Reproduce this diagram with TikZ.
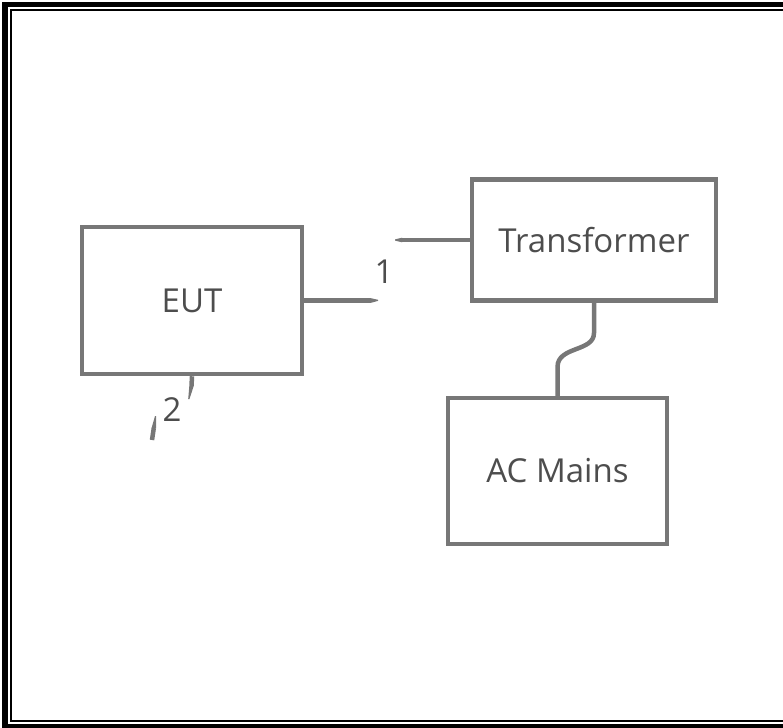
\documentclass[tikz,border=0pt]{standalone}
\usepackage{fontspec}
\setmainfont{Open Sans}
\definecolor{linegray}{HTML}{777777}
\definecolor{textgray}{HTML}{4D4D4D}
\begin{document}
\begin{tikzpicture}[x=1pt,y=-1pt,
  box/.style={draw=linegray,line width=4.5pt,rectangle,inner sep=0pt,
    font=\fontsize{33}{38}\selectfont,text=textgray},
  conn/.style={draw=linegray,line width=4.5pt},
  tip/.style={fill=linegray},
  lbl/.style={font=\fontsize{33}{38}\selectfont,text=textgray,inner sep=0pt}]
\useasboundingbox (0,0) rectangle (783,727);
% frame
\draw[black,line width=5.5pt] (5,4.3) rectangle (800,727);
\draw[black,line width=2.3pt] (11,10) rectangle (800,721);
% boxes
\node[box,minimum width=220pt,minimum height=147pt] (eut) at (192,300.5) {EUT};
\node[box,minimum width=244pt,minimum height=121pt] (tr) at (594,240) {Transformer};
\node[box,minimum width=219pt,minimum height=146pt] (ac) at (557.5,471) {AC Mains};
% connector 1
\coordinate (c1a) at (371,300.5);
\coordinate (c1b) at (402,240);
\draw[conn] (eut.east) -- (c1a);
\fill[tip] (371,298.2) -- (378,299.8) -- (378,300.9) -- (371,302.8) -- cycle;
\draw[conn] (tr.west) -- (c1b);
\fill[tip] (402,237.7) -- (395,239.4) -- (395,240.6) -- (402,242.3) -- cycle;
\node[lbl] (l1) at (384,272) {1};
% connector 2
\coordinate (c2a) at (191.5,386);
\draw[conn] (eut.south) -- (c2a);
\fill[tip] (189.3,386) -- (193.7,386) -- (189.5,399) -- (188.2,399) -- cycle;
\coordinate (c2b) at (152,440);
\coordinate (c2c) at (153.8,428);
\draw[conn] (c2b) -- (c2c);
\fill[tip] (151.6,428) -- (156,428) -- (156,416) -- (155,416) -- cycle;
\node[lbl] (l2) at (172,410) {2};
% transformer to AC mains
\coordinate (k1) at (594,333);
\coordinate (k2) at (557.5,367);
\draw[conn] (tr.south) -- (k1) .. controls (594,352) and (557.5,346) .. (k2) -- (ac.north);
\end{tikzpicture}
\end{document}
